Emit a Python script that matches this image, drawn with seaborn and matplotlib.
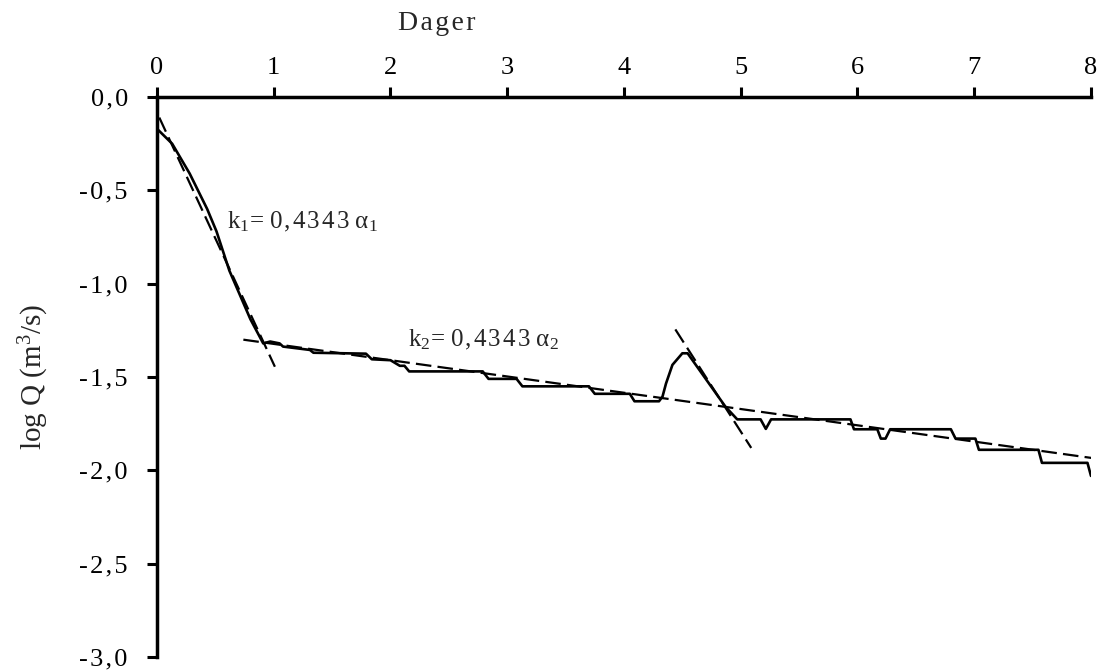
import matplotlib
matplotlib.use("Agg")
import matplotlib.pyplot as plt
import seaborn as sns
import pandas as pd

# ---- data ----
days = [0.0, 0.13, 0.28, 0.43, 0.51, 0.62, 0.80, 0.91, 0.97, 1.05, 1.08, 1.31, 1.34,
        1.79, 1.84, 2.0, 2.08, 2.12, 2.16, 2.79, 2.84, 3.08, 3.13, 3.70, 3.75, 4.05,
        4.09, 4.30, 4.33, 4.36, 4.415, 4.50, 4.545, 4.87, 4.93, 4.97, 5.17, 5.215,
        5.26, 5.94, 5.97, 6.17, 6.20, 6.24, 6.28, 6.80, 6.84, 7.01, 7.04, 7.55, 7.58,
        7.97, 8.0]
logq = [-0.17, -0.25, -0.41, -0.60, -0.72, -0.93, -1.19, -1.32, -1.31, -1.32, -1.337,
        -1.355, -1.37, -1.375, -1.405, -1.41, -1.44, -1.44, -1.47, -1.47, -1.51,
        -1.51, -1.55, -1.55, -1.59, -1.59, -1.63, -1.63, -1.605, -1.535, -1.435,
        -1.373, -1.373, -1.66, -1.70, -1.727, -1.727, -1.778, -1.727, -1.727, -1.78,
        -1.78, -1.83, -1.83, -1.78, -1.78, -1.83, -1.83, -1.89, -1.89, -1.96, -1.96,
        -2.03]

fit1_x = [0.02, 1.01]
fit1_y = [-0.11, -1.445]
fit2_x = [0.74, 8.02]
fit2_y = [-1.30, -1.935]
fit3_x = [4.44, 5.09]
fit3_y = [-1.245, -1.88]

x_ticks = [0, 1, 2, 3, 4, 5, 6, 7, 8]
y_ticks = [0.0, -0.5, -1.0, -1.5, -2.0, -2.5, -3.0]
y_tick_labels = ["0,0", "-0,5", "-1,0", "-1,5", "-2,0", "-2,5", "-3,0"]

HS = "\u200a"  # hair space for the slight letter spacing of the original


def spaced(s):
    return HS.join(list(s))


label1 = "k$_1$= " + spaced("0,4343") + HS * 3 + "α$_1$"
label2 = "k$_2$= " + spaced("0,4343") + HS * 3 + "α$_2$"

# ---- style ----
sns.set_style("white")
plt.rcParams["font.family"] = ["Liberation Serif", "DejaVu Serif"]
plt.rcParams["mathtext.fontset"] = "custom"
plt.rcParams["mathtext.rm"] = "Liberation Serif"
plt.rcParams["mathtext.it"] = "Liberation Serif:italic"

fig = plt.figure(figsize=(11, 6.71), dpi=100)
ax = fig.add_axes([0.1427, 0.0209, 0.9918 - 0.1427, 0.8554 - 0.0209])

df = pd.DataFrame({"days": days, "logq": logq})
sns.lineplot(data=df, x="days", y="logq", ax=ax, color="black", lw=1.9,
             sort=False, estimator=None)

dash = (0, (7, 2.8))
for fx, fy in [(fit1_x, fit1_y), (fit2_x, fit2_y), (fit3_x, fit3_y)]:
    sns.lineplot(x=fx, y=fy, ax=ax, color="black", lw=1.6, linestyle=dash,
                 estimator=None, sort=False)

ax.set_xlim(0, 8)
ax.set_ylim(-3.0, 0.0)
ax.set_xticks(x_ticks)
ax.set_xticklabels([str(t) for t in x_ticks])
ax.set_yticks(y_ticks)
ax.set_yticklabels([spaced(t) for t in y_tick_labels])

ax.xaxis.tick_top()
ax.xaxis.set_label_position("top")
for s in ["right", "bottom"]:
    ax.spines[s].set_visible(False)
for s in ["top", "left"]:
    ax.spines[s].set_linewidth(2.5)
    ax.spines[s].set_color("black")
ax.tick_params(axis="x", which="both", direction="out", length=7, width=2.2,
               labelsize=19, pad=6, top=True, bottom=False, colors="black")
ax.tick_params(axis="y", which="both", direction="out", length=7, width=2.2,
               labelsize=19, pad=14, left=True, colors="black")

ax.set_xlabel(spaced("Dager"), fontsize=20)
ax.xaxis.set_label_coords(0.30, 1.12)
ax.set_ylabel("log Q (m$^3$/s)", fontsize=21)
ax.yaxis.set_label_coords(-0.113, 0.5)

ax.text(0.60, -0.67, label1, fontsize=18, va="center", ha="left")
ax.text(2.15, -1.30, label2, fontsize=18, va="center", ha="left")

ax.set_facecolor("white")
fig.patch.set_facecolor("white")
fig.savefig("out.png", dpi=100)
